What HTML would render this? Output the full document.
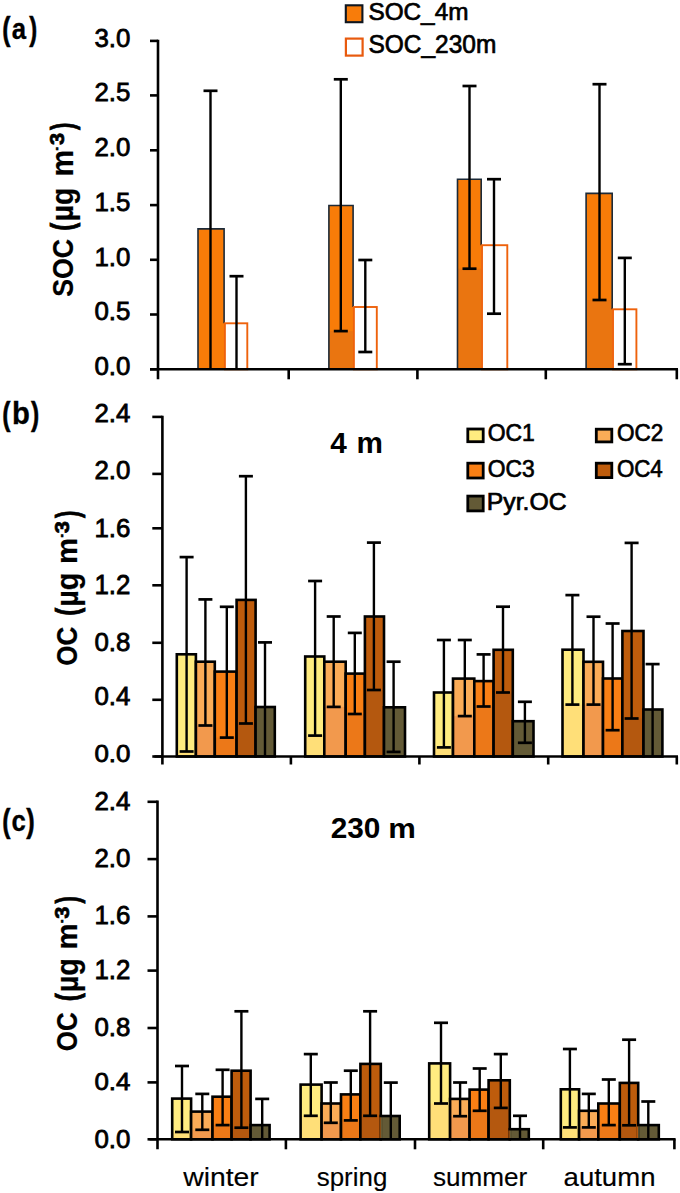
<!DOCTYPE html>
<html><head><meta charset="utf-8"><style>
html,body{margin:0;padding:0;background:#fff;}
body{width:680px;height:1193px;overflow:hidden;}
svg{display:block;font-family:"Liberation Sans", sans-serif;}
</style></head><body>
<svg width="680" height="1193" viewBox="0 0 680 1193">
<rect x="0" y="0" width="680" height="1193" fill="#fff"/>
<rect x="198.0" y="228.9" width="26.1" height="140.4" fill="#F87C08"/>
<path d="M198.0,369.3 V228.9 H224.1 V323.3" fill="none" stroke="#1c2a38" stroke-width="1.6"/>
<rect x="224.9" y="323.3" width="22.4" height="46.0" fill="#FFFFFF" stroke="#EE620C" stroke-width="1.9"/>
<rect x="328.9" y="205.5" width="24.2" height="163.8" fill="#F87C08"/>
<rect x="328.9" y="331.1" width="24.2" height="38.2" fill="#EA7510"/>
<path d="M328.9,369.3 V205.5 H353.1 V307.0" fill="none" stroke="#1c2a38" stroke-width="1.6"/>
<rect x="353.9" y="307.0" width="22.9" height="62.3" fill="#FFFFFF" stroke="#EE620C" stroke-width="1.9"/>
<rect x="457.5" y="179.2" width="23.7" height="190.1" fill="#F87C08"/>
<rect x="457.5" y="268.7" width="23.7" height="100.6" fill="#EA7510"/>
<path d="M457.5,369.3 V179.2 H481.2 V245.2" fill="none" stroke="#1c2a38" stroke-width="1.6"/>
<rect x="482.0" y="245.2" width="25.3" height="124.1" fill="#FFFFFF" stroke="#EE620C" stroke-width="1.9"/>
<rect x="586.1" y="193.4" width="26.1" height="175.9" fill="#F87C08"/>
<rect x="586.1" y="300.0" width="26.1" height="69.3" fill="#EA7510"/>
<path d="M586.1,369.3 V193.4 H612.2 V309.3" fill="none" stroke="#1c2a38" stroke-width="1.6"/>
<rect x="613.0" y="309.3" width="23.4" height="60.0" fill="#FFFFFF" stroke="#EE620C" stroke-width="1.9"/>
<line x1="210.5" y1="90.8" x2="210.5" y2="369.3" stroke="#000" stroke-width="2.4" stroke-linecap="butt"/>
<line x1="203.5" y1="90.8" x2="217.5" y2="90.8" stroke="#000" stroke-width="2.6999999999999997" stroke-linecap="butt"/>
<line x1="236.5" y1="276.2" x2="236.5" y2="369.3" stroke="#000" stroke-width="2.4" stroke-linecap="butt"/>
<line x1="229.5" y1="276.2" x2="243.5" y2="276.2" stroke="#000" stroke-width="2.6999999999999997" stroke-linecap="butt"/>
<line x1="340.8" y1="79.3" x2="340.8" y2="331.1" stroke="#000" stroke-width="2.4" stroke-linecap="butt"/>
<line x1="333.8" y1="79.3" x2="347.8" y2="79.3" stroke="#000" stroke-width="2.6999999999999997" stroke-linecap="butt"/>
<line x1="333.8" y1="331.1" x2="347.8" y2="331.1" stroke="#000" stroke-width="2.6999999999999997" stroke-linecap="butt"/>
<line x1="365.3" y1="260.0" x2="365.3" y2="352.0" stroke="#000" stroke-width="2.4" stroke-linecap="butt"/>
<line x1="358.3" y1="260.0" x2="372.3" y2="260.0" stroke="#000" stroke-width="2.6999999999999997" stroke-linecap="butt"/>
<line x1="358.3" y1="352.0" x2="372.3" y2="352.0" stroke="#000" stroke-width="2.6999999999999997" stroke-linecap="butt"/>
<line x1="469.5" y1="86.0" x2="469.5" y2="268.7" stroke="#000" stroke-width="2.4" stroke-linecap="butt"/>
<line x1="462.5" y1="86.0" x2="476.5" y2="86.0" stroke="#000" stroke-width="2.6999999999999997" stroke-linecap="butt"/>
<line x1="462.5" y1="268.7" x2="476.5" y2="268.7" stroke="#000" stroke-width="2.6999999999999997" stroke-linecap="butt"/>
<line x1="494.0" y1="179.2" x2="494.0" y2="313.7" stroke="#000" stroke-width="2.4" stroke-linecap="butt"/>
<line x1="487.0" y1="179.2" x2="501.0" y2="179.2" stroke="#000" stroke-width="2.6999999999999997" stroke-linecap="butt"/>
<line x1="487.0" y1="313.7" x2="501.0" y2="313.7" stroke="#000" stroke-width="2.6999999999999997" stroke-linecap="butt"/>
<line x1="599.5" y1="84.2" x2="599.5" y2="300.0" stroke="#000" stroke-width="2.4" stroke-linecap="butt"/>
<line x1="592.5" y1="84.2" x2="606.5" y2="84.2" stroke="#000" stroke-width="2.6999999999999997" stroke-linecap="butt"/>
<line x1="592.5" y1="300.0" x2="606.5" y2="300.0" stroke="#000" stroke-width="2.6999999999999997" stroke-linecap="butt"/>
<line x1="624.8" y1="257.9" x2="624.8" y2="364.2" stroke="#000" stroke-width="2.4" stroke-linecap="butt"/>
<line x1="617.8" y1="257.9" x2="631.8" y2="257.9" stroke="#000" stroke-width="2.6999999999999997" stroke-linecap="butt"/>
<line x1="617.8" y1="364.2" x2="631.8" y2="364.2" stroke="#000" stroke-width="2.6999999999999997" stroke-linecap="butt"/>
<line x1="150.0" y1="369.3" x2="158.0" y2="369.3" stroke="#000" stroke-width="2.6" stroke-linecap="butt"/>
<text x="94.46" y="374.65" font-size="25.35" stroke="#000" stroke-width="0.8" textLength="35.97" lengthAdjust="spacingAndGlyphs">0.0</text>
<line x1="150.0" y1="314.5" x2="158.0" y2="314.5" stroke="#000" stroke-width="2.6" stroke-linecap="butt"/>
<text x="94.46" y="319.95" font-size="25.49" stroke="#000" stroke-width="0.8" textLength="35.97" lengthAdjust="spacingAndGlyphs">0.5</text>
<line x1="150.0" y1="259.8" x2="158.0" y2="259.8" stroke="#000" stroke-width="2.6" stroke-linecap="butt"/>
<text x="94.46" y="265.84" font-size="26.34" stroke="#000" stroke-width="0.8" textLength="35.97" lengthAdjust="spacingAndGlyphs">1.0</text>
<line x1="150.0" y1="205.1" x2="158.0" y2="205.1" stroke="#000" stroke-width="2.6" stroke-linecap="butt"/>
<text x="94.46" y="210.84" font-size="25.92" stroke="#000" stroke-width="0.8" textLength="35.97" lengthAdjust="spacingAndGlyphs">1.5</text>
<line x1="150.0" y1="150.3" x2="158.0" y2="150.3" stroke="#000" stroke-width="2.6" stroke-linecap="butt"/>
<text x="94.46" y="155.55" font-size="25.49" stroke="#000" stroke-width="0.8" textLength="35.97" lengthAdjust="spacingAndGlyphs">2.0</text>
<line x1="150.0" y1="95.4" x2="158.0" y2="95.4" stroke="#000" stroke-width="2.6" stroke-linecap="butt"/>
<text x="94.46" y="101.44" font-size="26.34" stroke="#000" stroke-width="0.8" textLength="35.97" lengthAdjust="spacingAndGlyphs">2.5</text>
<line x1="150.0" y1="40.9" x2="158.0" y2="40.9" stroke="#000" stroke-width="2.6" stroke-linecap="butt"/>
<text x="94.46" y="46.74" font-size="26.34" stroke="#000" stroke-width="0.8" textLength="35.97" lengthAdjust="spacingAndGlyphs">3.0</text>
<line x1="158.0" y1="39.7" x2="158.0" y2="379.3" stroke="#000" stroke-width="2.6" stroke-linecap="butt"/>
<line x1="150.0" y1="369.3" x2="678.0" y2="369.3" stroke="#000" stroke-width="2.6" stroke-linecap="butt"/>
<line x1="288.7" y1="369.3" x2="288.7" y2="379.3" stroke="#000" stroke-width="2.6" stroke-linecap="butt"/>
<line x1="417.4" y1="369.3" x2="417.4" y2="379.3" stroke="#000" stroke-width="2.6" stroke-linecap="butt"/>
<line x1="545.8" y1="369.3" x2="545.8" y2="379.3" stroke="#000" stroke-width="2.6" stroke-linecap="butt"/>
<line x1="676.8" y1="369.3" x2="676.8" y2="379.3" stroke="#000" stroke-width="2.6" stroke-linecap="butt"/>
<rect x="345.8" y="5.3" width="16.6" height="16.9" fill="#F87C0A" stroke="#0e1620" stroke-width="2.1"/>
<rect x="345.9" y="38.6" width="16.7" height="17.0" fill="#FFFFFF" stroke="#E85A0E" stroke-width="2.2"/>
<text x="368.41" y="19.95" font-size="24.79" font-weight="normal" stroke="#000" stroke-width="0.7" textLength="100.03" lengthAdjust="spacingAndGlyphs">SOC_4m</text>
<text x="368.40" y="52.55" font-size="25.35" font-weight="normal" stroke="#000" stroke-width="0.7" textLength="127.91" lengthAdjust="spacingAndGlyphs">SOC_230m</text>
<rect x="176.8" y="654.3" width="19.1" height="102.2" fill="#FFEC80"/>
<rect x="176.8" y="751.5" width="19.1" height="5.0" fill="#FFDF78"/>
<rect x="176.8" y="654.3" width="19.1" height="102.2" fill="none" stroke="#000" stroke-width="2.6"/>
<rect x="195.9" y="661.7" width="18.9" height="94.8" fill="#FBAC57"/>
<rect x="195.9" y="725.5" width="18.9" height="31.0" fill="#F2994D"/>
<rect x="195.9" y="661.7" width="18.9" height="94.8" fill="none" stroke="#000" stroke-width="2.6"/>
<rect x="214.8" y="671.6" width="21.8" height="84.9" fill="#F97F14"/>
<rect x="214.8" y="737.6" width="21.8" height="18.9" fill="#EC7818"/>
<rect x="214.8" y="671.6" width="21.8" height="84.9" fill="none" stroke="#000" stroke-width="2.6"/>
<rect x="236.6" y="599.9" width="19.0" height="156.6" fill="#BE5C0C"/>
<rect x="236.6" y="723.5" width="19.0" height="33.0" fill="#B4580F"/>
<rect x="236.6" y="599.9" width="19.0" height="156.6" fill="none" stroke="#000" stroke-width="2.6"/>
<rect x="255.6" y="707.0" width="19.2" height="49.5" fill="#635A36"/>
<rect x="255.6" y="707.0" width="19.2" height="49.5" fill="none" stroke="#000" stroke-width="2.6"/>
<line x1="186.6" y1="557.1" x2="186.6" y2="751.5" stroke="#000" stroke-width="2.4" stroke-linecap="butt"/>
<line x1="179.6" y1="557.1" x2="193.6" y2="557.1" stroke="#000" stroke-width="2.6999999999999997" stroke-linecap="butt"/>
<line x1="179.6" y1="751.5" x2="193.6" y2="751.5" stroke="#000" stroke-width="2.6999999999999997" stroke-linecap="butt"/>
<line x1="205.4" y1="599.4" x2="205.4" y2="725.5" stroke="#000" stroke-width="2.4" stroke-linecap="butt"/>
<line x1="198.4" y1="599.4" x2="212.4" y2="599.4" stroke="#000" stroke-width="2.6999999999999997" stroke-linecap="butt"/>
<line x1="198.4" y1="725.5" x2="212.4" y2="725.5" stroke="#000" stroke-width="2.6999999999999997" stroke-linecap="butt"/>
<line x1="226.8" y1="606.8" x2="226.8" y2="737.6" stroke="#000" stroke-width="2.4" stroke-linecap="butt"/>
<line x1="219.8" y1="606.8" x2="233.8" y2="606.8" stroke="#000" stroke-width="2.6999999999999997" stroke-linecap="butt"/>
<line x1="219.8" y1="737.6" x2="233.8" y2="737.6" stroke="#000" stroke-width="2.6999999999999997" stroke-linecap="butt"/>
<line x1="245.9" y1="476.2" x2="245.9" y2="723.5" stroke="#000" stroke-width="2.4" stroke-linecap="butt"/>
<line x1="238.9" y1="476.2" x2="252.9" y2="476.2" stroke="#000" stroke-width="2.6999999999999997" stroke-linecap="butt"/>
<line x1="238.9" y1="723.5" x2="252.9" y2="723.5" stroke="#000" stroke-width="2.6999999999999997" stroke-linecap="butt"/>
<line x1="265.0" y1="642.4" x2="265.0" y2="756.5" stroke="#000" stroke-width="2.4" stroke-linecap="butt"/>
<line x1="258.0" y1="642.4" x2="272.0" y2="642.4" stroke="#000" stroke-width="2.6999999999999997" stroke-linecap="butt"/>
<rect x="305.2" y="656.5" width="19.1" height="100.0" fill="#FFEC80"/>
<rect x="305.2" y="735.6" width="19.1" height="20.9" fill="#FFDF78"/>
<rect x="305.2" y="656.5" width="19.1" height="100.0" fill="none" stroke="#000" stroke-width="2.6"/>
<rect x="324.3" y="661.7" width="21.4" height="94.8" fill="#FBAC57"/>
<rect x="324.3" y="706.9" width="21.4" height="49.6" fill="#F2994D"/>
<rect x="324.3" y="661.7" width="21.4" height="94.8" fill="none" stroke="#000" stroke-width="2.6"/>
<rect x="345.7" y="673.6" width="19.2" height="82.9" fill="#F97F14"/>
<rect x="345.7" y="714.0" width="19.2" height="42.5" fill="#EC7818"/>
<rect x="345.7" y="673.6" width="19.2" height="82.9" fill="none" stroke="#000" stroke-width="2.6"/>
<rect x="364.9" y="616.5" width="19.1" height="140.0" fill="#BE5C0C"/>
<rect x="364.9" y="690.0" width="19.1" height="66.5" fill="#B4580F"/>
<rect x="364.9" y="616.5" width="19.1" height="140.0" fill="none" stroke="#000" stroke-width="2.6"/>
<rect x="384.0" y="707.3" width="21.0" height="49.2" fill="#635A36"/>
<rect x="384.0" y="751.9" width="21.0" height="4.6" fill="#635A36"/>
<rect x="384.0" y="707.3" width="21.0" height="49.2" fill="none" stroke="#000" stroke-width="2.6"/>
<line x1="315.1" y1="581.0" x2="315.1" y2="735.6" stroke="#000" stroke-width="2.4" stroke-linecap="butt"/>
<line x1="308.1" y1="581.0" x2="322.1" y2="581.0" stroke="#000" stroke-width="2.6999999999999997" stroke-linecap="butt"/>
<line x1="308.1" y1="735.6" x2="322.1" y2="735.6" stroke="#000" stroke-width="2.6999999999999997" stroke-linecap="butt"/>
<line x1="333.7" y1="616.5" x2="333.7" y2="706.9" stroke="#000" stroke-width="2.4" stroke-linecap="butt"/>
<line x1="326.7" y1="616.5" x2="340.7" y2="616.5" stroke="#000" stroke-width="2.6999999999999997" stroke-linecap="butt"/>
<line x1="326.7" y1="706.9" x2="340.7" y2="706.9" stroke="#000" stroke-width="2.6999999999999997" stroke-linecap="butt"/>
<line x1="354.8" y1="632.9" x2="354.8" y2="714.0" stroke="#000" stroke-width="2.4" stroke-linecap="butt"/>
<line x1="347.8" y1="632.9" x2="361.8" y2="632.9" stroke="#000" stroke-width="2.6999999999999997" stroke-linecap="butt"/>
<line x1="347.8" y1="714.0" x2="361.8" y2="714.0" stroke="#000" stroke-width="2.6999999999999997" stroke-linecap="butt"/>
<line x1="373.9" y1="542.6" x2="373.9" y2="690.0" stroke="#000" stroke-width="2.4" stroke-linecap="butt"/>
<line x1="366.9" y1="542.6" x2="380.9" y2="542.6" stroke="#000" stroke-width="2.6999999999999997" stroke-linecap="butt"/>
<line x1="366.9" y1="690.0" x2="380.9" y2="690.0" stroke="#000" stroke-width="2.6999999999999997" stroke-linecap="butt"/>
<line x1="393.6" y1="661.7" x2="393.6" y2="751.9" stroke="#000" stroke-width="2.4" stroke-linecap="butt"/>
<line x1="386.6" y1="661.7" x2="400.6" y2="661.7" stroke="#000" stroke-width="2.6999999999999997" stroke-linecap="butt"/>
<line x1="386.6" y1="751.9" x2="400.6" y2="751.9" stroke="#000" stroke-width="2.6999999999999997" stroke-linecap="butt"/>
<rect x="434.0" y="692.5" width="19.0" height="64.0" fill="#FFEC80"/>
<rect x="434.0" y="747.4" width="19.0" height="9.1" fill="#FFDF78"/>
<rect x="434.0" y="692.5" width="19.0" height="64.0" fill="none" stroke="#000" stroke-width="2.6"/>
<rect x="453.0" y="678.6" width="21.3" height="77.9" fill="#FBAC57"/>
<rect x="453.0" y="716.1" width="21.3" height="40.4" fill="#F2994D"/>
<rect x="453.0" y="678.6" width="21.3" height="77.9" fill="none" stroke="#000" stroke-width="2.6"/>
<rect x="474.3" y="681.1" width="19.3" height="75.4" fill="#F97F14"/>
<rect x="474.3" y="706.5" width="19.3" height="50.0" fill="#EC7818"/>
<rect x="474.3" y="681.1" width="19.3" height="75.4" fill="none" stroke="#000" stroke-width="2.6"/>
<rect x="493.6" y="649.8" width="19.2" height="106.7" fill="#BE5C0C"/>
<rect x="493.6" y="692.5" width="19.2" height="64.0" fill="#B4580F"/>
<rect x="493.6" y="649.8" width="19.2" height="106.7" fill="none" stroke="#000" stroke-width="2.6"/>
<rect x="512.8" y="721.2" width="20.7" height="35.3" fill="#635A36"/>
<rect x="512.8" y="742.8" width="20.7" height="13.7" fill="#635A36"/>
<rect x="512.8" y="721.2" width="20.7" height="35.3" fill="none" stroke="#000" stroke-width="2.6"/>
<line x1="443.9" y1="640.0" x2="443.9" y2="747.4" stroke="#000" stroke-width="2.4" stroke-linecap="butt"/>
<line x1="436.9" y1="640.0" x2="450.9" y2="640.0" stroke="#000" stroke-width="2.6999999999999997" stroke-linecap="butt"/>
<line x1="436.9" y1="747.4" x2="450.9" y2="747.4" stroke="#000" stroke-width="2.6999999999999997" stroke-linecap="butt"/>
<line x1="464.8" y1="640.0" x2="464.8" y2="716.1" stroke="#000" stroke-width="2.4" stroke-linecap="butt"/>
<line x1="457.8" y1="640.0" x2="471.8" y2="640.0" stroke="#000" stroke-width="2.6999999999999997" stroke-linecap="butt"/>
<line x1="457.8" y1="716.1" x2="471.8" y2="716.1" stroke="#000" stroke-width="2.6999999999999997" stroke-linecap="butt"/>
<line x1="483.6" y1="654.4" x2="483.6" y2="706.5" stroke="#000" stroke-width="2.4" stroke-linecap="butt"/>
<line x1="476.6" y1="654.4" x2="490.6" y2="654.4" stroke="#000" stroke-width="2.6999999999999997" stroke-linecap="butt"/>
<line x1="476.6" y1="706.5" x2="490.6" y2="706.5" stroke="#000" stroke-width="2.6999999999999997" stroke-linecap="butt"/>
<line x1="503.0" y1="606.7" x2="503.0" y2="692.5" stroke="#000" stroke-width="2.4" stroke-linecap="butt"/>
<line x1="496.0" y1="606.7" x2="510.0" y2="606.7" stroke="#000" stroke-width="2.6999999999999997" stroke-linecap="butt"/>
<line x1="496.0" y1="692.5" x2="510.0" y2="692.5" stroke="#000" stroke-width="2.6999999999999997" stroke-linecap="butt"/>
<line x1="524.9" y1="701.8" x2="524.9" y2="742.8" stroke="#000" stroke-width="2.4" stroke-linecap="butt"/>
<line x1="517.9" y1="701.8" x2="531.9" y2="701.8" stroke="#000" stroke-width="2.6999999999999997" stroke-linecap="butt"/>
<line x1="517.9" y1="742.8" x2="531.9" y2="742.8" stroke="#000" stroke-width="2.6999999999999997" stroke-linecap="butt"/>
<rect x="562.5" y="649.7" width="21.0" height="106.8" fill="#FFEC80"/>
<rect x="562.5" y="704.6" width="21.0" height="51.9" fill="#FFDF78"/>
<rect x="562.5" y="649.7" width="21.0" height="106.8" fill="none" stroke="#000" stroke-width="2.6"/>
<rect x="583.5" y="661.8" width="19.5" height="94.7" fill="#FBAC57"/>
<rect x="583.5" y="704.6" width="19.5" height="51.9" fill="#F2994D"/>
<rect x="583.5" y="661.8" width="19.5" height="94.7" fill="none" stroke="#000" stroke-width="2.6"/>
<rect x="603.0" y="678.5" width="19.4" height="78.0" fill="#F97F14"/>
<rect x="603.0" y="730.2" width="19.4" height="26.3" fill="#EC7818"/>
<rect x="603.0" y="678.5" width="19.4" height="78.0" fill="none" stroke="#000" stroke-width="2.6"/>
<rect x="622.4" y="631.0" width="21.1" height="125.5" fill="#BE5C0C"/>
<rect x="622.4" y="718.5" width="21.1" height="38.0" fill="#B4580F"/>
<rect x="622.4" y="631.0" width="21.1" height="125.5" fill="none" stroke="#000" stroke-width="2.6"/>
<rect x="643.5" y="709.5" width="18.9" height="47.0" fill="#635A36"/>
<rect x="643.5" y="709.5" width="18.9" height="47.0" fill="none" stroke="#000" stroke-width="2.6"/>
<line x1="572.4" y1="595.1" x2="572.4" y2="704.6" stroke="#000" stroke-width="2.4" stroke-linecap="butt"/>
<line x1="565.4" y1="595.1" x2="579.4" y2="595.1" stroke="#000" stroke-width="2.6999999999999997" stroke-linecap="butt"/>
<line x1="565.4" y1="704.6" x2="579.4" y2="704.6" stroke="#000" stroke-width="2.6999999999999997" stroke-linecap="butt"/>
<line x1="593.5" y1="616.7" x2="593.5" y2="704.6" stroke="#000" stroke-width="2.4" stroke-linecap="butt"/>
<line x1="586.5" y1="616.7" x2="600.5" y2="616.7" stroke="#000" stroke-width="2.6999999999999997" stroke-linecap="butt"/>
<line x1="586.5" y1="704.6" x2="600.5" y2="704.6" stroke="#000" stroke-width="2.6999999999999997" stroke-linecap="butt"/>
<line x1="612.6" y1="623.5" x2="612.6" y2="730.2" stroke="#000" stroke-width="2.4" stroke-linecap="butt"/>
<line x1="605.6" y1="623.5" x2="619.6" y2="623.5" stroke="#000" stroke-width="2.6999999999999997" stroke-linecap="butt"/>
<line x1="605.6" y1="730.2" x2="619.6" y2="730.2" stroke="#000" stroke-width="2.6999999999999997" stroke-linecap="butt"/>
<line x1="631.6" y1="542.9" x2="631.6" y2="718.5" stroke="#000" stroke-width="2.4" stroke-linecap="butt"/>
<line x1="624.6" y1="542.9" x2="638.6" y2="542.9" stroke="#000" stroke-width="2.6999999999999997" stroke-linecap="butt"/>
<line x1="624.6" y1="718.5" x2="638.6" y2="718.5" stroke="#000" stroke-width="2.6999999999999997" stroke-linecap="butt"/>
<line x1="652.6" y1="664.1" x2="652.6" y2="756.5" stroke="#000" stroke-width="2.4" stroke-linecap="butt"/>
<line x1="645.6" y1="664.1" x2="659.6" y2="664.1" stroke="#000" stroke-width="2.6999999999999997" stroke-linecap="butt"/>
<line x1="152.3" y1="756.5" x2="162.4" y2="756.5" stroke="#000" stroke-width="2.6" stroke-linecap="butt"/>
<text x="94.46" y="761.56" font-size="24.08" stroke="#000" stroke-width="0.8" textLength="35.97" lengthAdjust="spacingAndGlyphs">0.0</text>
<line x1="152.3" y1="699.8" x2="162.4" y2="699.8" stroke="#000" stroke-width="2.6" stroke-linecap="butt"/>
<text x="94.46" y="704.95" font-size="25.49" stroke="#000" stroke-width="0.8" textLength="35.97" lengthAdjust="spacingAndGlyphs">0.4</text>
<line x1="152.3" y1="642.8" x2="162.4" y2="642.8" stroke="#000" stroke-width="2.6" stroke-linecap="butt"/>
<text x="94.46" y="650.84" font-size="26.34" stroke="#000" stroke-width="0.8" textLength="35.97" lengthAdjust="spacingAndGlyphs">0.8</text>
<line x1="152.3" y1="585.3" x2="162.4" y2="585.3" stroke="#000" stroke-width="2.6" stroke-linecap="butt"/>
<text x="94.46" y="594.23" font-size="27.04" stroke="#000" stroke-width="0.8" textLength="35.97" lengthAdjust="spacingAndGlyphs">1.2</text>
<line x1="152.3" y1="528.3" x2="162.4" y2="528.3" stroke="#000" stroke-width="2.6" stroke-linecap="butt"/>
<text x="94.46" y="536.65" font-size="25.49" stroke="#000" stroke-width="0.8" textLength="35.97" lengthAdjust="spacingAndGlyphs">1.6</text>
<line x1="152.3" y1="473.9" x2="162.4" y2="473.9" stroke="#000" stroke-width="2.6" stroke-linecap="butt"/>
<text x="94.46" y="479.45" font-size="25.35" stroke="#000" stroke-width="0.8" textLength="35.97" lengthAdjust="spacingAndGlyphs">2.0</text>
<line x1="152.3" y1="416.9" x2="162.4" y2="416.9" stroke="#000" stroke-width="2.6" stroke-linecap="butt"/>
<text x="94.46" y="422.34" font-size="26.34" stroke="#000" stroke-width="0.8" textLength="35.97" lengthAdjust="spacingAndGlyphs">2.4</text>
<line x1="162.4" y1="415.7" x2="162.4" y2="764.5" stroke="#000" stroke-width="2.6" stroke-linecap="butt"/>
<line x1="154.4" y1="756.5" x2="678.0" y2="756.5" stroke="#000" stroke-width="2.6" stroke-linecap="butt"/>
<line x1="290.9" y1="756.5" x2="290.9" y2="764.5" stroke="#000" stroke-width="2.6" stroke-linecap="butt"/>
<line x1="419.4" y1="756.5" x2="419.4" y2="764.5" stroke="#000" stroke-width="2.6" stroke-linecap="butt"/>
<line x1="548.2" y1="756.5" x2="548.2" y2="764.5" stroke="#000" stroke-width="2.6" stroke-linecap="butt"/>
<line x1="676.8" y1="756.5" x2="676.8" y2="764.5" stroke="#000" stroke-width="2.6" stroke-linecap="butt"/>
<rect x="172.2" y="1098.6" width="18.9" height="40.7" fill="#FFEC80"/>
<rect x="172.2" y="1132.0" width="18.9" height="7.3" fill="#FFDF78"/>
<rect x="172.2" y="1098.6" width="18.9" height="40.7" fill="none" stroke="#000" stroke-width="2.6"/>
<rect x="191.1" y="1111.6" width="21.4" height="27.7" fill="#FBAC57"/>
<rect x="191.1" y="1129.8" width="21.4" height="9.5" fill="#F2994D"/>
<rect x="191.1" y="1111.6" width="21.4" height="27.7" fill="none" stroke="#000" stroke-width="2.6"/>
<rect x="212.5" y="1096.7" width="19.1" height="42.6" fill="#F97F14"/>
<rect x="212.5" y="1125.1" width="19.1" height="14.2" fill="#EC7818"/>
<rect x="212.5" y="1096.7" width="19.1" height="42.6" fill="none" stroke="#000" stroke-width="2.6"/>
<rect x="231.6" y="1070.7" width="19.0" height="68.6" fill="#BE5C0C"/>
<rect x="231.6" y="1127.7" width="19.0" height="11.6" fill="#B4580F"/>
<rect x="231.6" y="1070.7" width="19.0" height="68.6" fill="none" stroke="#000" stroke-width="2.6"/>
<rect x="250.6" y="1125.1" width="19.0" height="14.2" fill="#635A36"/>
<rect x="250.6" y="1125.1" width="19.0" height="14.2" fill="none" stroke="#000" stroke-width="2.6"/>
<line x1="182.0" y1="1066.0" x2="182.0" y2="1132.0" stroke="#000" stroke-width="2.4" stroke-linecap="butt"/>
<line x1="175.0" y1="1066.0" x2="189.0" y2="1066.0" stroke="#000" stroke-width="2.6999999999999997" stroke-linecap="butt"/>
<line x1="175.0" y1="1132.0" x2="189.0" y2="1132.0" stroke="#000" stroke-width="2.6999999999999997" stroke-linecap="butt"/>
<line x1="202.3" y1="1093.9" x2="202.3" y2="1129.8" stroke="#000" stroke-width="2.4" stroke-linecap="butt"/>
<line x1="195.3" y1="1093.9" x2="209.3" y2="1093.9" stroke="#000" stroke-width="2.6999999999999997" stroke-linecap="butt"/>
<line x1="195.3" y1="1129.8" x2="209.3" y2="1129.8" stroke="#000" stroke-width="2.6999999999999997" stroke-linecap="butt"/>
<line x1="222.6" y1="1069.8" x2="222.6" y2="1125.1" stroke="#000" stroke-width="2.4" stroke-linecap="butt"/>
<line x1="215.6" y1="1069.8" x2="229.6" y2="1069.8" stroke="#000" stroke-width="2.6999999999999997" stroke-linecap="butt"/>
<line x1="215.6" y1="1125.1" x2="229.6" y2="1125.1" stroke="#000" stroke-width="2.6999999999999997" stroke-linecap="butt"/>
<line x1="241.4" y1="1011.3" x2="241.4" y2="1127.7" stroke="#000" stroke-width="2.4" stroke-linecap="butt"/>
<line x1="234.4" y1="1011.3" x2="248.4" y2="1011.3" stroke="#000" stroke-width="2.6999999999999997" stroke-linecap="butt"/>
<line x1="234.4" y1="1127.7" x2="248.4" y2="1127.7" stroke="#000" stroke-width="2.6999999999999997" stroke-linecap="butt"/>
<line x1="262.2" y1="1098.9" x2="262.2" y2="1139.3" stroke="#000" stroke-width="2.4" stroke-linecap="butt"/>
<line x1="255.2" y1="1098.9" x2="269.2" y2="1098.9" stroke="#000" stroke-width="2.6999999999999997" stroke-linecap="butt"/>
<rect x="300.6" y="1084.6" width="21.0" height="54.7" fill="#FFEC80"/>
<rect x="300.6" y="1115.8" width="21.0" height="23.5" fill="#FFDF78"/>
<rect x="300.6" y="1084.6" width="21.0" height="54.7" fill="none" stroke="#000" stroke-width="2.6"/>
<rect x="321.6" y="1103.5" width="19.4" height="35.8" fill="#FBAC57"/>
<rect x="321.6" y="1122.8" width="19.4" height="16.5" fill="#F2994D"/>
<rect x="321.6" y="1103.5" width="19.4" height="35.8" fill="none" stroke="#000" stroke-width="2.6"/>
<rect x="341.0" y="1094.4" width="19.4" height="44.9" fill="#F97F14"/>
<rect x="341.0" y="1120.4" width="19.4" height="18.9" fill="#EC7818"/>
<rect x="341.0" y="1094.4" width="19.4" height="44.9" fill="none" stroke="#000" stroke-width="2.6"/>
<rect x="360.4" y="1063.9" width="20.4" height="75.4" fill="#BE5C0C"/>
<rect x="360.4" y="1115.8" width="20.4" height="23.5" fill="#B4580F"/>
<rect x="360.4" y="1063.9" width="20.4" height="75.4" fill="none" stroke="#000" stroke-width="2.6"/>
<rect x="380.8" y="1116.0" width="18.9" height="23.3" fill="#635A36"/>
<rect x="380.8" y="1116.0" width="18.9" height="23.3" fill="none" stroke="#000" stroke-width="2.6"/>
<rect x="379.5" y="1117.3" width="1.3" height="20.7" fill="#B4580F"/>
<rect x="380.8" y="1117.3" width="1.3" height="20.7" fill="#635A36"/>
<line x1="310.8" y1="1054.1" x2="310.8" y2="1115.8" stroke="#000" stroke-width="2.4" stroke-linecap="butt"/>
<line x1="303.8" y1="1054.1" x2="317.8" y2="1054.1" stroke="#000" stroke-width="2.6999999999999997" stroke-linecap="butt"/>
<line x1="303.8" y1="1115.8" x2="317.8" y2="1115.8" stroke="#000" stroke-width="2.6999999999999997" stroke-linecap="butt"/>
<line x1="330.8" y1="1082.5" x2="330.8" y2="1122.8" stroke="#000" stroke-width="2.4" stroke-linecap="butt"/>
<line x1="323.8" y1="1082.5" x2="337.8" y2="1082.5" stroke="#000" stroke-width="2.6999999999999997" stroke-linecap="butt"/>
<line x1="323.8" y1="1122.8" x2="337.8" y2="1122.8" stroke="#000" stroke-width="2.6999999999999997" stroke-linecap="butt"/>
<line x1="350.8" y1="1070.7" x2="350.8" y2="1120.4" stroke="#000" stroke-width="2.4" stroke-linecap="butt"/>
<line x1="343.8" y1="1070.7" x2="357.8" y2="1070.7" stroke="#000" stroke-width="2.6999999999999997" stroke-linecap="butt"/>
<line x1="343.8" y1="1120.4" x2="357.8" y2="1120.4" stroke="#000" stroke-width="2.6999999999999997" stroke-linecap="butt"/>
<line x1="370.1" y1="1011.3" x2="370.1" y2="1115.8" stroke="#000" stroke-width="2.4" stroke-linecap="butt"/>
<line x1="363.1" y1="1011.3" x2="377.1" y2="1011.3" stroke="#000" stroke-width="2.6999999999999997" stroke-linecap="butt"/>
<line x1="363.1" y1="1115.8" x2="377.1" y2="1115.8" stroke="#000" stroke-width="2.6999999999999997" stroke-linecap="butt"/>
<line x1="390.8" y1="1082.6" x2="390.8" y2="1139.3" stroke="#000" stroke-width="2.4" stroke-linecap="butt"/>
<line x1="383.8" y1="1082.6" x2="397.8" y2="1082.6" stroke="#000" stroke-width="2.6999999999999997" stroke-linecap="butt"/>
<rect x="429.2" y="1063.4" width="20.9" height="75.9" fill="#FFEC80"/>
<rect x="429.2" y="1103.5" width="20.9" height="35.8" fill="#FFDF78"/>
<rect x="429.2" y="1063.4" width="20.9" height="75.9" fill="none" stroke="#000" stroke-width="2.6"/>
<rect x="450.1" y="1098.9" width="19.5" height="40.4" fill="#FBAC57"/>
<rect x="450.1" y="1116.2" width="19.5" height="23.1" fill="#F2994D"/>
<rect x="450.1" y="1098.9" width="19.5" height="40.4" fill="none" stroke="#000" stroke-width="2.6"/>
<rect x="469.6" y="1089.6" width="19.0" height="49.7" fill="#F97F14"/>
<rect x="469.6" y="1110.8" width="19.0" height="28.5" fill="#EC7818"/>
<rect x="469.6" y="1089.6" width="19.0" height="49.7" fill="none" stroke="#000" stroke-width="2.6"/>
<rect x="488.6" y="1080.3" width="21.2" height="59.0" fill="#BE5C0C"/>
<rect x="488.6" y="1107.9" width="21.2" height="31.4" fill="#B4580F"/>
<rect x="488.6" y="1080.3" width="21.2" height="59.0" fill="none" stroke="#000" stroke-width="2.6"/>
<rect x="509.8" y="1129.2" width="19.0" height="10.1" fill="#635A36"/>
<rect x="509.8" y="1129.2" width="19.0" height="10.1" fill="none" stroke="#000" stroke-width="2.6"/>
<rect x="508.5" y="1130.5" width="1.3" height="7.5" fill="#B4580F"/>
<rect x="509.8" y="1130.5" width="1.3" height="7.5" fill="#635A36"/>
<line x1="441.0" y1="1022.8" x2="441.0" y2="1103.5" stroke="#000" stroke-width="2.4" stroke-linecap="butt"/>
<line x1="434.0" y1="1022.8" x2="448.0" y2="1022.8" stroke="#000" stroke-width="2.6999999999999997" stroke-linecap="butt"/>
<line x1="434.0" y1="1103.5" x2="448.0" y2="1103.5" stroke="#000" stroke-width="2.6999999999999997" stroke-linecap="butt"/>
<line x1="460.1" y1="1082.5" x2="460.1" y2="1116.2" stroke="#000" stroke-width="2.4" stroke-linecap="butt"/>
<line x1="453.1" y1="1082.5" x2="467.1" y2="1082.5" stroke="#000" stroke-width="2.6999999999999997" stroke-linecap="butt"/>
<line x1="453.1" y1="1116.2" x2="467.1" y2="1116.2" stroke="#000" stroke-width="2.6999999999999997" stroke-linecap="butt"/>
<line x1="479.7" y1="1068.5" x2="479.7" y2="1110.8" stroke="#000" stroke-width="2.4" stroke-linecap="butt"/>
<line x1="472.7" y1="1068.5" x2="486.7" y2="1068.5" stroke="#000" stroke-width="2.6999999999999997" stroke-linecap="butt"/>
<line x1="472.7" y1="1110.8" x2="486.7" y2="1110.8" stroke="#000" stroke-width="2.6999999999999997" stroke-linecap="butt"/>
<line x1="500.8" y1="1054.1" x2="500.8" y2="1107.9" stroke="#000" stroke-width="2.4" stroke-linecap="butt"/>
<line x1="493.8" y1="1054.1" x2="507.8" y2="1054.1" stroke="#000" stroke-width="2.6999999999999997" stroke-linecap="butt"/>
<line x1="493.8" y1="1107.9" x2="507.8" y2="1107.9" stroke="#000" stroke-width="2.6999999999999997" stroke-linecap="butt"/>
<line x1="520.0" y1="1115.8" x2="520.0" y2="1139.3" stroke="#000" stroke-width="2.4" stroke-linecap="butt"/>
<line x1="513.0" y1="1115.8" x2="527.0" y2="1115.8" stroke="#000" stroke-width="2.6999999999999997" stroke-linecap="butt"/>
<rect x="560.8" y="1089.3" width="18.3" height="50.0" fill="#FFEC80"/>
<rect x="560.8" y="1127.4" width="18.3" height="11.9" fill="#FFDF78"/>
<rect x="560.8" y="1089.3" width="18.3" height="50.0" fill="none" stroke="#000" stroke-width="2.6"/>
<rect x="579.1" y="1110.8" width="19.2" height="28.5" fill="#FBAC57"/>
<rect x="579.1" y="1127.4" width="19.2" height="11.9" fill="#F2994D"/>
<rect x="579.1" y="1110.8" width="19.2" height="28.5" fill="none" stroke="#000" stroke-width="2.6"/>
<rect x="598.3" y="1103.5" width="21.5" height="35.8" fill="#F97F14"/>
<rect x="598.3" y="1125.1" width="21.5" height="14.2" fill="#EC7818"/>
<rect x="598.3" y="1103.5" width="21.5" height="35.8" fill="none" stroke="#000" stroke-width="2.6"/>
<rect x="619.8" y="1082.9" width="18.4" height="56.4" fill="#BE5C0C"/>
<rect x="619.8" y="1125.3" width="18.4" height="14.0" fill="#B4580F"/>
<rect x="619.8" y="1082.9" width="18.4" height="56.4" fill="none" stroke="#000" stroke-width="2.6"/>
<rect x="638.2" y="1125.1" width="20.6" height="14.2" fill="#635A36"/>
<rect x="638.2" y="1125.1" width="20.6" height="14.2" fill="none" stroke="#000" stroke-width="2.6"/>
<rect x="636.9" y="1126.4" width="1.3" height="11.6" fill="#B4580F"/>
<rect x="638.2" y="1126.4" width="1.3" height="11.6" fill="#635A36"/>
<line x1="569.9" y1="1049.0" x2="569.9" y2="1127.4" stroke="#000" stroke-width="2.4" stroke-linecap="butt"/>
<line x1="562.9" y1="1049.0" x2="576.9" y2="1049.0" stroke="#000" stroke-width="2.6999999999999997" stroke-linecap="butt"/>
<line x1="562.9" y1="1127.4" x2="576.9" y2="1127.4" stroke="#000" stroke-width="2.6999999999999997" stroke-linecap="butt"/>
<line x1="588.8" y1="1093.9" x2="588.8" y2="1127.4" stroke="#000" stroke-width="2.4" stroke-linecap="butt"/>
<line x1="581.8" y1="1093.9" x2="595.8" y2="1093.9" stroke="#000" stroke-width="2.6999999999999997" stroke-linecap="butt"/>
<line x1="581.8" y1="1127.4" x2="595.8" y2="1127.4" stroke="#000" stroke-width="2.6999999999999997" stroke-linecap="butt"/>
<line x1="608.8" y1="1079.5" x2="608.8" y2="1125.1" stroke="#000" stroke-width="2.4" stroke-linecap="butt"/>
<line x1="601.8" y1="1079.5" x2="615.8" y2="1079.5" stroke="#000" stroke-width="2.6999999999999997" stroke-linecap="butt"/>
<line x1="601.8" y1="1125.1" x2="615.8" y2="1125.1" stroke="#000" stroke-width="2.6999999999999997" stroke-linecap="butt"/>
<line x1="629.1" y1="1039.7" x2="629.1" y2="1125.3" stroke="#000" stroke-width="2.4" stroke-linecap="butt"/>
<line x1="622.1" y1="1039.7" x2="636.1" y2="1039.7" stroke="#000" stroke-width="2.6999999999999997" stroke-linecap="butt"/>
<line x1="622.1" y1="1125.3" x2="636.1" y2="1125.3" stroke="#000" stroke-width="2.6999999999999997" stroke-linecap="butt"/>
<line x1="648.3" y1="1101.5" x2="648.3" y2="1139.3" stroke="#000" stroke-width="2.4" stroke-linecap="butt"/>
<line x1="641.3" y1="1101.5" x2="655.3" y2="1101.5" stroke="#000" stroke-width="2.6999999999999997" stroke-linecap="butt"/>
<line x1="147.5" y1="1139.3" x2="157.5" y2="1139.3" stroke="#000" stroke-width="2.6" stroke-linecap="butt"/>
<text x="94.46" y="1147.54" font-size="26.20" stroke="#000" stroke-width="0.8" textLength="35.97" lengthAdjust="spacingAndGlyphs">0.0</text>
<line x1="147.5" y1="1082.4" x2="157.5" y2="1082.4" stroke="#000" stroke-width="2.6" stroke-linecap="butt"/>
<text x="94.46" y="1089.95" font-size="24.65" stroke="#000" stroke-width="0.8" textLength="35.97" lengthAdjust="spacingAndGlyphs">0.4</text>
<line x1="147.5" y1="1028.0" x2="157.5" y2="1028.0" stroke="#000" stroke-width="2.6" stroke-linecap="butt"/>
<text x="94.46" y="1035.85" font-size="25.49" stroke="#000" stroke-width="0.8" textLength="35.97" lengthAdjust="spacingAndGlyphs">0.8</text>
<line x1="147.5" y1="970.6" x2="157.5" y2="970.6" stroke="#000" stroke-width="2.6" stroke-linecap="butt"/>
<text x="94.46" y="979.23" font-size="27.04" stroke="#000" stroke-width="0.8" textLength="35.97" lengthAdjust="spacingAndGlyphs">1.2</text>
<line x1="147.5" y1="916.4" x2="157.5" y2="916.4" stroke="#000" stroke-width="2.6" stroke-linecap="butt"/>
<text x="94.46" y="924.35" font-size="25.49" stroke="#000" stroke-width="0.8" textLength="35.97" lengthAdjust="spacingAndGlyphs">1.6</text>
<line x1="147.5" y1="859.1" x2="157.5" y2="859.1" stroke="#000" stroke-width="2.6" stroke-linecap="butt"/>
<text x="94.46" y="867.15" font-size="25.35" stroke="#000" stroke-width="0.8" textLength="35.97" lengthAdjust="spacingAndGlyphs">2.0</text>
<line x1="147.5" y1="801.8" x2="157.5" y2="801.8" stroke="#000" stroke-width="2.6" stroke-linecap="butt"/>
<text x="94.46" y="810.05" font-size="25.49" stroke="#000" stroke-width="0.8" textLength="35.97" lengthAdjust="spacingAndGlyphs">2.4</text>
<line x1="157.5" y1="800.6" x2="157.5" y2="1149.3" stroke="#000" stroke-width="2.6" stroke-linecap="butt"/>
<line x1="149.5" y1="1139.3" x2="675.6" y2="1139.3" stroke="#000" stroke-width="2.6" stroke-linecap="butt"/>
<line x1="285.9" y1="1139.3" x2="285.9" y2="1149.3" stroke="#000" stroke-width="2.6" stroke-linecap="butt"/>
<line x1="415.0" y1="1139.3" x2="415.0" y2="1149.3" stroke="#000" stroke-width="2.6" stroke-linecap="butt"/>
<line x1="543.2" y1="1139.3" x2="543.2" y2="1149.3" stroke="#000" stroke-width="2.6" stroke-linecap="butt"/>
<line x1="674.4" y1="1139.3" x2="674.4" y2="1149.3" stroke="#000" stroke-width="2.6" stroke-linecap="butt"/>
<rect x="467.8" y="429.0" width="15.4" height="12.7" fill="#FFEC80" stroke="#000" stroke-width="2.8"/>
<text x="487.77" y="440.76" font-size="23.94" font-weight="normal" stroke="#000" stroke-width="0.7" textLength="47.10" lengthAdjust="spacingAndGlyphs">OC1</text>
<rect x="596.3" y="429.2" width="15.5" height="12.7" fill="#FBAC57" stroke="#000" stroke-width="2.8"/>
<text x="616.89" y="440.76" font-size="23.94" font-weight="normal" stroke="#000" stroke-width="0.7" textLength="46.37" lengthAdjust="spacingAndGlyphs">OC2</text>
<rect x="467.8" y="463.2" width="15.4" height="14.8" fill="#F97F14" stroke="#000" stroke-width="2.8"/>
<text x="487.77" y="476.75" font-size="24.65" font-weight="normal" stroke="#000" stroke-width="0.7" textLength="46.98" lengthAdjust="spacingAndGlyphs">OC3</text>
<rect x="596.3" y="463.2" width="15.5" height="14.4" fill="#BE5C0C" stroke="#000" stroke-width="2.8"/>
<text x="616.90" y="476.75" font-size="24.65" font-weight="normal" stroke="#000" stroke-width="0.7" textLength="45.90" lengthAdjust="spacingAndGlyphs">OC4</text>
<rect x="467.8" y="496.1" width="15.4" height="14.8" fill="#635A36" stroke="#000" stroke-width="2.8"/>
<text x="486.82" y="509.76" font-size="23.94" font-weight="normal" stroke="#000" stroke-width="0.7" textLength="79.84" lengthAdjust="spacingAndGlyphs">Pyr.OC</text>
<text x="330.25" y="452.80" font-size="29.28" font-weight="bold" stroke="#000" stroke-width="0.0" textLength="16.53" lengthAdjust="spacingAndGlyphs">4</text>
<text x="356.47" y="452.80" font-size="29.26" font-weight="bold" stroke="#000" stroke-width="0.0" textLength="26.44" lengthAdjust="spacingAndGlyphs">m</text>
<text x="330.66" y="838.01" font-size="28.59" font-weight="bold" stroke="#000" stroke-width="0.0" textLength="49.74" lengthAdjust="spacingAndGlyphs">230</text>
<text x="388.38" y="838.30" font-size="28.52" font-weight="bold" stroke="#000" stroke-width="0.0" textLength="27.61" lengthAdjust="spacingAndGlyphs">m</text>
<text x="2.17" y="40.19" font-size="32.41" font-weight="bold" stroke="#000" stroke-width="0.5" textLength="8.21" lengthAdjust="spacingAndGlyphs">(</text>
<text x="11.83" y="38.91" font-size="28.91" font-weight="bold" stroke="#000" stroke-width="0.3" textLength="14.35" lengthAdjust="spacingAndGlyphs">a</text>
<text x="29.28" y="40.19" font-size="32.41" font-weight="bold" stroke="#000" stroke-width="0.5" textLength="7.97" lengthAdjust="spacingAndGlyphs">)</text>
<text x="2.17" y="424.79" font-size="32.41" font-weight="bold" stroke="#000" stroke-width="0.5" textLength="8.21" lengthAdjust="spacingAndGlyphs">(</text>
<text x="12.10" y="424.39" font-size="31.16" font-weight="bold" stroke="#000" stroke-width="0.3" textLength="17.90" lengthAdjust="spacingAndGlyphs">b</text>
<text x="31.08" y="424.79" font-size="32.41" font-weight="bold" stroke="#000" stroke-width="0.5" textLength="8.21" lengthAdjust="spacingAndGlyphs">)</text>
<text x="2.17" y="831.62" font-size="32.30" font-weight="bold" stroke="#000" stroke-width="0.5" textLength="8.21" lengthAdjust="spacingAndGlyphs">(</text>
<text x="11.57" y="830.81" font-size="29.27" font-weight="bold" stroke="#000" stroke-width="0.3" textLength="14.33" lengthAdjust="spacingAndGlyphs">c</text>
<text x="26.27" y="831.62" font-size="32.30" font-weight="bold" stroke="#000" stroke-width="0.5" textLength="8.45" lengthAdjust="spacingAndGlyphs">)</text>
<text transform="rotate(-90)" x="-296.80" y="73.10" font-size="30.42" font-weight="bold" stroke="#000" stroke-width="0.2" textLength="57.92" lengthAdjust="spacingAndGlyphs">SOC</text>
<text transform="rotate(-90)" x="-230.70" y="72.81" font-size="30.91" font-weight="bold" stroke="#000" stroke-width="0.9" textLength="7.97" lengthAdjust="spacingAndGlyphs">(</text>
<text transform="rotate(-90)" x="-221.24" y="73.39" font-size="30.53" font-weight="bold" stroke="#000" stroke-width="0.2" textLength="33.53" lengthAdjust="spacingAndGlyphs">µg</text>
<text transform="rotate(-90)" x="-176.54" y="73.40" font-size="30.56" font-weight="bold" stroke="#000" stroke-width="0.2" textLength="26.56" lengthAdjust="spacingAndGlyphs">m</text>
<text transform="rotate(-90)" x="-150.41" y="61.40" font-size="15.00" font-weight="bold" stroke="#000" stroke-width="0.7" textLength="3.40" lengthAdjust="spacingAndGlyphs">-</text>
<text transform="rotate(-90)" x="-145.05" y="63.70" font-size="20.14" font-weight="bold" stroke="#000" stroke-width="0.7" textLength="12.13" lengthAdjust="spacingAndGlyphs">3</text>
<text transform="rotate(-90)" x="-130.01" y="72.81" font-size="30.91" font-weight="bold" stroke="#000" stroke-width="0.9" textLength="7.37" lengthAdjust="spacingAndGlyphs">)</text>
<text transform="rotate(-90)" x="-665.84" y="76.91" font-size="28.73" font-weight="bold" stroke="#000" stroke-width="0.2" textLength="38.99" lengthAdjust="spacingAndGlyphs">OC</text>
<text transform="rotate(-90)" x="-615.70" y="77.86" font-size="31.12" font-weight="bold" stroke="#000" stroke-width="0.9" textLength="7.97" lengthAdjust="spacingAndGlyphs">(</text>
<text transform="rotate(-90)" x="-606.77" y="78.25" font-size="31.20" font-weight="bold" stroke="#000" stroke-width="0.2" textLength="34.09" lengthAdjust="spacingAndGlyphs">µg</text>
<text transform="rotate(-90)" x="-564.00" y="77.30" font-size="29.44" font-weight="bold" stroke="#000" stroke-width="0.2" textLength="25.97" lengthAdjust="spacingAndGlyphs">m</text>
<text transform="rotate(-90)" x="-537.41" y="65.80" font-size="15.00" font-weight="bold" stroke="#000" stroke-width="0.7" textLength="3.40" lengthAdjust="spacingAndGlyphs">-</text>
<text transform="rotate(-90)" x="-533.15" y="68.70" font-size="20.28" font-weight="bold" stroke="#000" stroke-width="0.7" textLength="12.13" lengthAdjust="spacingAndGlyphs">3</text>
<text transform="rotate(-90)" x="-518.01" y="77.86" font-size="31.12" font-weight="bold" stroke="#000" stroke-width="0.9" textLength="7.37" lengthAdjust="spacingAndGlyphs">)</text>
<text transform="rotate(-90)" x="-1051.34" y="76.91" font-size="28.73" font-weight="bold" stroke="#000" stroke-width="0.2" textLength="38.99" lengthAdjust="spacingAndGlyphs">OC</text>
<text transform="rotate(-90)" x="-1001.20" y="77.86" font-size="31.12" font-weight="bold" stroke="#000" stroke-width="0.9" textLength="7.97" lengthAdjust="spacingAndGlyphs">(</text>
<text transform="rotate(-90)" x="-992.27" y="78.25" font-size="31.20" font-weight="bold" stroke="#000" stroke-width="0.2" textLength="34.09" lengthAdjust="spacingAndGlyphs">µg</text>
<text transform="rotate(-90)" x="-949.50" y="77.30" font-size="29.44" font-weight="bold" stroke="#000" stroke-width="0.2" textLength="25.97" lengthAdjust="spacingAndGlyphs">m</text>
<text transform="rotate(-90)" x="-922.91" y="65.80" font-size="15.00" font-weight="bold" stroke="#000" stroke-width="0.7" textLength="3.40" lengthAdjust="spacingAndGlyphs">-</text>
<text transform="rotate(-90)" x="-918.65" y="68.70" font-size="20.28" font-weight="bold" stroke="#000" stroke-width="0.7" textLength="12.13" lengthAdjust="spacingAndGlyphs">3</text>
<text transform="rotate(-90)" x="-903.51" y="77.86" font-size="31.12" font-weight="bold" stroke="#000" stroke-width="0.9" textLength="7.37" lengthAdjust="spacingAndGlyphs">)</text>
<text x="183.20" y="1185.54" font-size="26.18" font-weight="normal" stroke="#000" stroke-width="0.15" textLength="75.60" lengthAdjust="spacingAndGlyphs">winter</text>
<text x="316.72" y="1185.54" font-size="26.18" font-weight="normal" stroke="#000" stroke-width="0.15" textLength="70.63" lengthAdjust="spacingAndGlyphs">spring</text>
<text x="432.92" y="1185.54" font-size="26.18" font-weight="normal" stroke="#000" stroke-width="0.15" textLength="94.31" lengthAdjust="spacingAndGlyphs">summer</text>
<text x="563.56" y="1185.54" font-size="26.18" font-weight="normal" stroke="#000" stroke-width="0.15" textLength="91.95" lengthAdjust="spacingAndGlyphs">autumn</text>
</svg>
</body></html>
